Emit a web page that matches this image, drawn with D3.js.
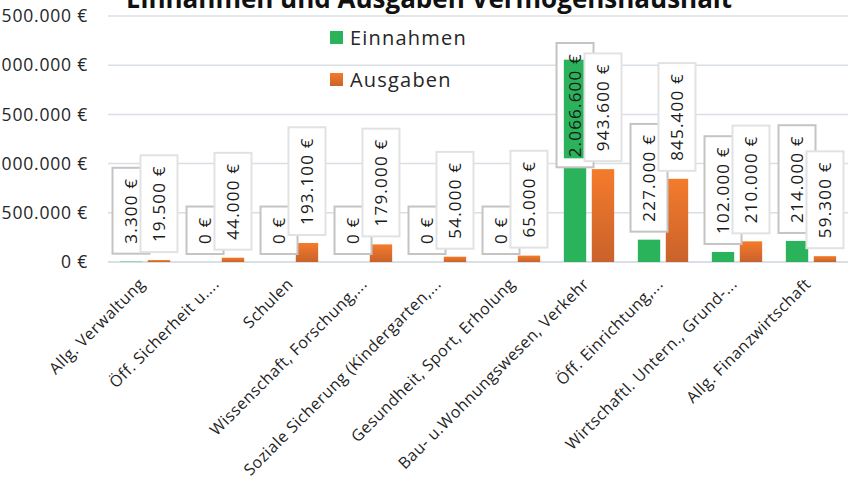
<!DOCTYPE html>
<html>
<head>
<meta charset="utf-8">
<script src="https://cdn.jsdelivr.net/npm/d3@7"></script>
<style>
  body { margin: 0; background: #fff; }
  svg { display: block; }
</style>
</head>
<body>
<div id="chart"></div>
<script>
// data
const categories = [
  "Allg. Verwaltung",
  "Öff. Sicherheit u....",
  "Schulen",
  "Wissenschaft, Forschung,...",
  "Soziale Sicherung (Kindergarten,...",
  "Gesundheit, Sport, Erholung",
  "Bau- u.Wohnungswesen, Verkehr",
  "Öff. Einrichtung,...",
  "Wirtschaftl. Untern., Grund-...",
  "Allg. Finanzwirtschaft"
];
const einnahmen = [3300, 0, 0, 0, 0, 0, 2066600, 227000, 102000, 214000];
const ausgaben = [19500, 44000, 193100, 179000, 54000, 65000, 943600, 845400, 210000, 59300];
const seriesNames = ["Einnahmen", "Ausgaben"];
const yTicks = [0, 500000, 1000000, 1500000, 2000000, 2500000];

const width = 853, height = 486;
const margin = {top: 16, right: 5, bottom: 224, left: 108};

const svg = d3.select("#chart")
  .append("svg")
  .attr("width", width)
  .attr("height", height);

const defs = svg.append("defs");
const grad = defs.append("linearGradient")
  .attr("id", "orangeGrad")
  .attr("x1", 0).attr("y1", 0).attr("x2", 0).attr("y2", 1);
grad.append("stop").attr("offset", "0%").attr("stop-color", "#F47B2B");
grad.append("stop").attr("offset", "100%").attr("stop-color", "#C9622B");

const colors = {Einnahmen: "#2BB35C", Ausgaben: "url(#orangeGrad)"};
const solid = {Einnahmen: "#2BB35C", Ausgaben: "#F47B2B"};
const boxStroke = {Einnahmen: "#c4c4c4", Ausgaben: "#e2e2e2"};

// scales
const x0 = d3.scaleBand()
  .domain(categories)
  .range([margin.left, width - margin.right])
  .paddingInner(0.32)
  .paddingOuter(0.16);

const x1 = d3.scaleBand()
  .domain(seriesNames)
  .range([0, x0.bandwidth()])
  .paddingInner(0.2);

const y = d3.scaleLinear()
  .domain([0, 2500000])
  .range([height - margin.bottom, margin.top]);

const de = d3.formatLocale({decimal: ",", thousands: ".", grouping: [3], currency: ["", " €"]});
const fmt = v => de.format(",.0f")(v) + " €";

// gridlines
svg.append("g")
  .selectAll("line")
  .data(yTicks)
  .join("line")
  .attr("x1", margin.left)
  .attr("x2", width - margin.right)
  .attr("y1", d => y(d))
  .attr("y2", d => y(d))
  .attr("stroke", "#d9dfe6")
  .attr("stroke-width", d => d === 0 ? 2 : 1.5);

// y tick labels (left part is cut off in the reference)
svg.append("g")
  .selectAll("text")
  .data(yTicks)
  .join("text")
  .attr("x", 88)
  .attr("y", d => y(d))
  .attr("dy", "0.35em")
  .attr("text-anchor", "end")
  .style("font", "17.5px 'Open Sans', sans-serif")
  .style("letter-spacing", "0.8px")
  .attr("fill", "#262626")
  .text(d => fmt(d));

// title (cut at top as in the reference)
svg.append("text")
  .attr("x", 429)
  .attr("y", 8)
  .attr("text-anchor", "middle")
  .style("font", "bold 26px 'Open Sans', sans-serif")
  .attr("fill", "#111")
  .text("Einnahmen und Ausgaben Vermögenshaushalt");

// flat records
const rows = [];
categories.forEach((c, i) => {
  rows.push({cat: c, key: "Einnahmen", value: einnahmen[i]});
  rows.push({cat: c, key: "Ausgaben", value: ausgaben[i]});
});

// data label geometry
const labelFont = "17px 'Open Sans', sans-serif";
const labelSpacing = "1.2px";
const measure = svg.append("text")
  .style("font", labelFont)
  .style("letter-spacing", labelSpacing)
  .attr("opacity", 0);
rows.forEach(d => {
  measure.text(fmt(d.value));
  const tl = measure.node().getComputedTextLength();
  d.bx = x0(d.cat) + x1(d.key);
  d.bw = x1.bandwidth();
  d.cx = d.bx + d.bw / 2;
  d.boxW = 37;
  d.boxH = tl + 20;
  d.boxBottom = y(d.value) - 8;
  d.boxTop = d.boxBottom - d.boxH;
  // no room above the bar: the label is pushed down inside it
  if (d.boxTop < margin.top + 27) {
    d.boxTop = margin.top + 27;
    d.boxBottom = d.boxTop + d.boxH;
  }
});
measure.remove();

// bars
svg.append("g")
  .selectAll("rect")
  .data(rows)
  .join("rect")
  .attr("x", d => d.bx)
  .attr("y", d => y(d.value))
  .attr("width", d => d.bw)
  .attr("height", d => y(0) - y(d.value))
  .attr("fill", d => colors[d.key]);

// label boxes, Einnahmen first so Ausgaben boxes sit on top
const order = rows.slice().sort((a, b) => (a.key === "Einnahmen" ? 0 : 1) - (b.key === "Einnahmen" ? 0 : 1));
const lab = svg.append("g")
  .selectAll("g")
  .data(order)
  .join("g");

lab.append("rect")
  .attr("x", d => d.cx - d.boxW / 2)
  .attr("y", d => d.boxTop)
  .attr("width", d => d.boxW)
  .attr("height", d => d.boxH)
  .attr("fill", "#fff")
  .attr("stroke", d => boxStroke[d.key])
  .attr("stroke-width", 2);

// bar colour showing through a label that sits inside its own bar
lab.filter(d => d.boxBottom > y(d.value))
  .append("rect")
  .attr("x", d => d.bx)
  .attr("y", d => y(d.value) + 1)
  .attr("width", d => d.bw - 2)
  .attr("height", d => d.boxBottom - 10 - y(d.value))
  .attr("fill", d => solid[d.key]);

lab.append("text")
  .attr("transform", d => `translate(${d.cx + 6},${d.boxBottom - 10}) rotate(-90)`)
  .style("font", labelFont)
  .style("letter-spacing", labelSpacing)
  .attr("fill", "#1a1a1a")
  .text(d => fmt(d.value));

// category labels
svg.append("g")
  .selectAll("text")
  .data(categories)
  .join("text")
  .attr("transform", d => `translate(${x0(d) + x0.bandwidth() / 2 + 1},${y(0) + 23}) rotate(-45)`)
  .attr("text-anchor", "end")
  .style("font", "16px 'Open Sans', sans-serif")
  .style("letter-spacing", "0.5px")
  .attr("fill", "#1f1f1f")
  .text(d => d);

// legend
const legend = svg.append("g")
  .selectAll("g")
  .data(seriesNames)
  .join("g")
  .attr("transform", (d, i) => `translate(330,${31 + i * 42})`);

legend.append("rect")
  .attr("width", 13)
  .attr("height", 13)
  .attr("fill", d => colors[d]);

legend.append("text")
  .attr("x", 20)
  .attr("y", 7)
  .attr("dy", "0.35em")
  .style("font", "20px 'Open Sans', sans-serif")
  .style("letter-spacing", "1.2px")
  .attr("fill", "#262626")
  .text(d => d);
</script>
</body>
</html>
